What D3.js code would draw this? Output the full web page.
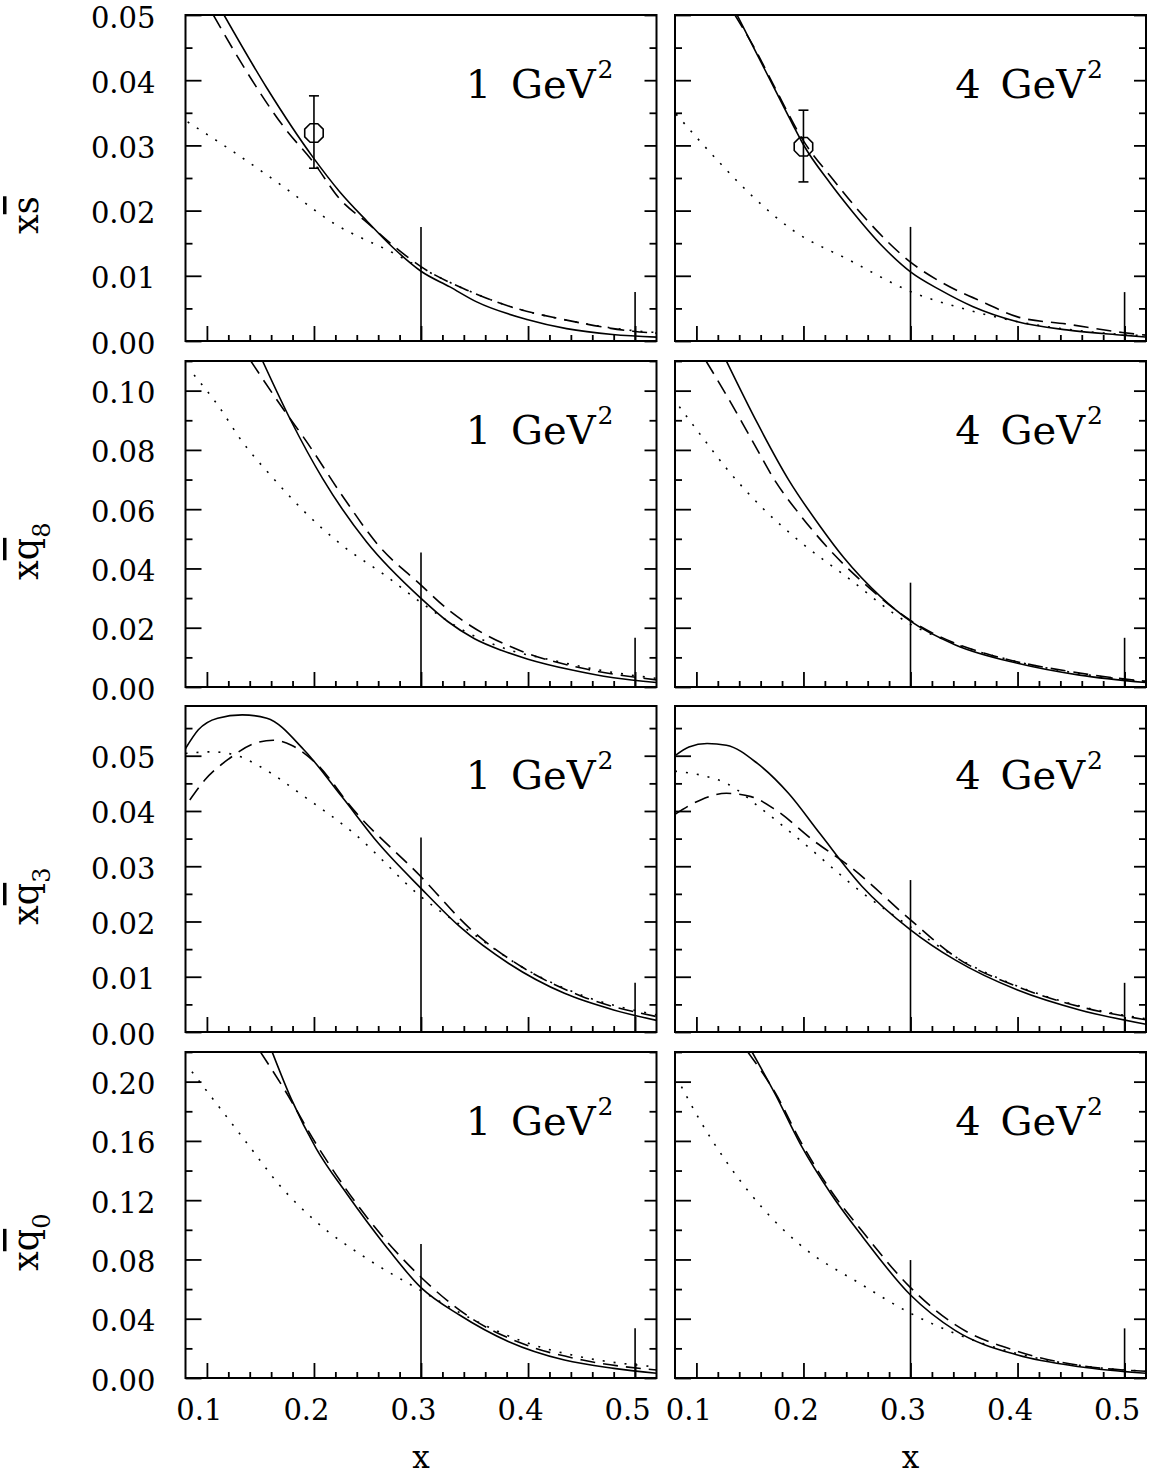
<!DOCTYPE html>
<html>
<head>
<meta charset="utf-8">
<script src="https://cdn.jsdelivr.net/npm/d3@7"></script>
<style>
  body { margin: 0; background: #fff; }
  text { font-family: "DejaVu Serif", serif; fill: #000; }
</style>
</head>
<body>
<div id="chart"></div>
<script>
// x range and ticks (same for every panel)
const xDomain = [0.08, 0.52];
const xMajor = [0.1, 0.2, 0.3, 0.4, 0.5];
const xMinor = [0.12, 0.14, 0.16, 0.18, 0.22, 0.24, 0.26, 0.28, 0.32, 0.34, 0.36, 0.38, 0.42, 0.44, 0.46, 0.48];

// rows: x sbar, x q8bar, x q3bar, x q0bar
const rowBase = ["s", "q", "q", "q"];
const rowSub = ["", "8", "3", "0"];
const yMax = [0.05, 0.11, 0.059, 0.22];
const yMajor = [
  [0, 0.01, 0.02, 0.03, 0.04, 0.05],
  [0, 0.02, 0.04, 0.06, 0.08, 0.10],
  [0, 0.01, 0.02, 0.03, 0.04, 0.05],
  [0, 0.04, 0.08, 0.12, 0.16, 0.20]
];
const yMinor = [
  [0.005, 0.015, 0.025, 0.035, 0.045],
  [0.01, 0.03, 0.05, 0.07, 0.09, 0.11],
  [0.005, 0.015, 0.025, 0.035, 0.045, 0.055],
  [0.02, 0.06, 0.10, 0.14, 0.18, 0.22]
];
const scaleTag = ["1", "4"];   // Q^2 in GeV^2, left / right column

// curves [x, y]
const s1Solid = [[0.116,0.050],[0.156,0.0388],[0.199,0.0282],[0.224,0.0229],[0.250,0.0183],[0.274,0.0143],[0.300,0.0107],[0.327,0.0083],[0.352,0.0060],[0.399,0.0033],[0.436,0.0019],[0.479,0.0010],[0.520,0.0006]];
const s1Dashed = [[0.106,0.050],[0.125,0.0446],[0.172,0.0328],[0.200,0.0273],[0.224,0.0218],[0.250,0.0181],[0.275,0.0145],[0.300,0.0114],[0.343,0.0078],[0.383,0.0053],[0.436,0.0032],[0.498,0.0015],[0.520,0.0012]];
const s1Dotted = [[0.082,0.0336],[0.125,0.0290],[0.172,0.0236],[0.218,0.0181],[0.274,0.0135],[0.300,0.0112],[0.343,0.0078],[0.383,0.0053],[0.436,0.0032],[0.498,0.0016],[0.520,0.0013]];

const s4Solid = [[0.138,0.050],[0.155,0.0445],[0.172,0.0390],[0.190,0.0332],[0.200,0.0301],[0.225,0.0242],[0.246,0.0198],[0.274,0.0145],[0.300,0.0106],[0.328,0.0078],[0.358,0.0053],[0.399,0.0030],[0.446,0.0017],[0.498,0.0009],[0.520,0.0006]];
const s4Dashed = [[0.136,0.050],[0.155,0.0447],[0.172,0.0393],[0.200,0.0307],[0.228,0.0247],[0.259,0.0186],[0.300,0.0121],[0.330,0.0089],[0.370,0.0058],[0.400,0.0037],[0.446,0.0026],[0.498,0.0013],[0.520,0.0009]];
const s4Dotted = [[0.081,0.0348],[0.122,0.0273],[0.153,0.0221],[0.190,0.0170],[0.243,0.0124],[0.300,0.0076],[0.353,0.0048],[0.399,0.0030],[0.446,0.0018],[0.498,0.0010],[0.520,0.0008]];

const q8_1Solid = [[0.152,0.110],[0.179,0.0895],[0.208,0.0704],[0.249,0.0490],[0.300,0.0299],[0.325,0.0221],[0.350,0.0163],[0.375,0.0124],[0.400,0.0094],[0.440,0.0058],[0.480,0.0031],[0.520,0.0015]];
const q8_1Dashed = [[0.141,0.110],[0.173,0.0929],[0.191,0.0839],[0.226,0.0648],[0.260,0.0479],[0.300,0.0344],[0.325,0.0262],[0.347,0.0205],[0.394,0.0121],[0.451,0.0063],[0.520,0.0024]];
const q8_1Dotted = [[0.088,0.1053],[0.110,0.0952],[0.133,0.0828],[0.162,0.0704],[0.191,0.0592],[0.226,0.0479],[0.266,0.0378],[0.300,0.0285],[0.340,0.0190],[0.380,0.0128],[0.422,0.0091],[0.470,0.0055],[0.520,0.0029]];

const q8_4Solid = [[0.128,0.110],[0.157,0.0890],[0.186,0.0700],[0.215,0.0545],[0.238,0.0435],[0.272,0.0305],[0.300,0.0222],[0.342,0.0142],[0.400,0.0080],[0.458,0.0040],[0.520,0.0015]];
const q8_4Dashed = [[0.109,0.110],[0.128,0.0985],[0.151,0.0839],[0.174,0.0693],[0.197,0.0580],[0.226,0.0457],[0.255,0.0355],[0.300,0.0225],[0.340,0.0150],[0.371,0.0112],[0.458,0.0047],[0.520,0.0019]];
const q8_4Dotted = [[0.084,0.0946],[0.104,0.0850],[0.128,0.0738],[0.162,0.0603],[0.197,0.0490],[0.238,0.0378],[0.300,0.0212],[0.340,0.0148],[0.400,0.0085],[0.458,0.0045],[0.520,0.0018]];

const q3_1Solid = [[0.080,0.0513],[0.092,0.0547],[0.110,0.0568],[0.133,0.0574],[0.156,0.0568],[0.191,0.0510],[0.226,0.0426],[0.260,0.0342],[0.300,0.0260],[0.336,0.0191],[0.382,0.0124],[0.434,0.0070],[0.480,0.0040],[0.520,0.0021]];
const q3_1Dashed = [[0.084,0.0420],[0.098,0.0456],[0.121,0.0495],[0.144,0.0522],[0.162,0.0528],[0.179,0.0519],[0.202,0.0486],[0.237,0.0402],[0.300,0.0281],[0.347,0.0185],[0.394,0.0118],[0.451,0.0064],[0.520,0.0028]];
const q3_1Dotted = [[0.080,0.0504],[0.104,0.0507],[0.127,0.0501],[0.150,0.0480],[0.191,0.0426],[0.237,0.0360],[0.300,0.0245],[0.347,0.0180],[0.394,0.0118],[0.451,0.0066],[0.520,0.0031]];

const q3_4Solid = [[0.080,0.0500],[0.093,0.0516],[0.110,0.0522],[0.128,0.0519],[0.157,0.0486],[0.186,0.0432],[0.215,0.0360],[0.255,0.0263],[0.300,0.0185],[0.342,0.0130],[0.400,0.0076],[0.458,0.0040],[0.520,0.0014]];
const q3_4Dashed = [[0.080,0.0394],[0.104,0.0420],[0.128,0.0432],[0.151,0.0426],[0.174,0.0402],[0.209,0.0347],[0.243,0.0300],[0.300,0.0203],[0.342,0.0136],[0.400,0.0082],[0.458,0.0046],[0.520,0.0022]];
const q3_4Dotted = [[0.080,0.0472],[0.104,0.0465],[0.128,0.0450],[0.162,0.0402],[0.197,0.0347],[0.255,0.0252],[0.300,0.0190],[0.342,0.0136],[0.400,0.0083],[0.458,0.0047],[0.520,0.0024]];

const q0_1Solid = [[0.161,0.220],[0.179,0.188],[0.202,0.155],[0.231,0.124],[0.266,0.090],[0.300,0.061],[0.336,0.0425],[0.382,0.0245],[0.434,0.0121],[0.480,0.0065],[0.520,0.0032]];
const q0_1Dashed = [[0.150,0.220],[0.173,0.1940],[0.202,0.1580],[0.243,0.1145],[0.300,0.0680],[0.347,0.0403],[0.394,0.0234],[0.451,0.0121],[0.520,0.0054]];
const q0_1Dotted = [[0.086,0.2067],[0.110,0.1842],[0.139,0.1570],[0.168,0.1300],[0.202,0.1055],[0.249,0.0808],[0.300,0.0590],[0.347,0.0400],[0.394,0.0250],[0.451,0.0140],[0.520,0.0075]];

const q0_4Solid = [[0.152,0.220],[0.174,0.191],[0.197,0.158],[0.226,0.124],[0.255,0.0955],[0.300,0.0560],[0.342,0.0320],[0.400,0.0155],[0.458,0.0076],[0.520,0.0032]];
const q0_4Dashed = [[0.148,0.220],[0.174,0.192],[0.197,0.160],[0.226,0.126],[0.255,0.0990],[0.300,0.0610],[0.342,0.0358],[0.400,0.0180],[0.458,0.0085],[0.520,0.0045]];
const q0_4Dotted = [[0.086,0.1966],[0.104,0.1730],[0.128,0.1460],[0.162,0.1145],[0.197,0.0898],[0.255,0.0628],[0.300,0.0437],[0.342,0.0300],[0.400,0.0165],[0.458,0.0085],[0.520,0.0045]];

// heights of the vertical bars at x = 0.3 and x = 0.5, [row][col]
const markX = [0.3, 0.5];
const markTop = [
  [[0.0175, 0.0075], [0.0175, 0.0075]],
  [[0.0454, 0.0166], [0.0352, 0.0166]],
  [[0.0352, 0.0089], [0.0275, 0.0089]],
  [[0.0904, 0.0335], [0.0796, 0.0335]]
];

// data point with error bar (top row only)
const sPoint = [
  {x: 0.2, y: 0.0319, lo: 0.0265, hi: 0.0376},
  {x: 0.2, y: 0.0298, lo: 0.0244, hi: 0.0354}
];

const solid = [[s1Solid, s4Solid], [q8_1Solid, q8_4Solid], [q3_1Solid, q3_4Solid], [q0_1Solid, q0_4Solid]];
const dashed = [[s1Dashed, s4Dashed], [q8_1Dashed, q8_4Dashed], [q3_1Dashed, q3_4Dashed], [q0_1Dashed, q0_4Dashed]];
const dotted = [[s1Dotted, s4Dotted], [q8_1Dotted, q8_4Dotted], [q3_1Dotted, q3_4Dotted], [q0_1Dotted, q0_4Dotted]];

// layout
const colLeft = [185.5, 675], panelW = 471;
const rowTop = [15, 361, 706, 1052], panelH = 326;

const svg = d3.select("#chart").append("svg")
    .attr("width", 1153)
    .attr("height", 1477);

const fmt = d3.format(".2f");
const line = d3.line().curve(d3.curveMonotoneX);

rowTop.forEach((top, r) => {
  // y label, rotated
  const lab = svg.append("text")
      .attr("transform", `translate(38,${top + panelH - 107}) rotate(-90)`)
      .style("font-size", "35px");
  lab.append("tspan").text("x");
  lab.append("tspan").text(rowBase[r]).style("text-decoration", "overline");
  if (rowSub[r]) lab.append("tspan").attr("dy", 12).style("font-size", "24px").text(rowSub[r]);

  colLeft.forEach((left, c) => {
    const x = d3.scaleLinear().domain(xDomain).range([0, panelW]);
    const y = d3.scaleLinear().domain([0, yMax[r]]).range([panelH, 0]);
    const g = svg.append("g").attr("transform", `translate(${left},${top})`);

    const clipId = `clip${r}${c}`;
    g.append("clipPath").attr("id", clipId)
      .append("rect").attr("width", panelW).attr("height", panelH);

    // left ticks
    g.append("g")
        .call(d3.axisLeft(y).tickValues(yMajor[r]).tickSize(-16).tickPadding(30)
          .tickFormat(c === 0 ? fmt : ""))
        .call(a => a.select(".domain").remove())
        .call(a => a.selectAll("text").attr("dy", null).attr("y", 12)
          .style("font-size", "29px").style("font-family", "DejaVu Serif"));
    g.append("g")
        .call(d3.axisLeft(y).tickValues(yMinor[r]).tickSize(-7).tickFormat(""))
        .call(a => a.select(".domain").remove());
    // right ticks
    g.append("g").attr("transform", `translate(${panelW},0)`)
        .call(d3.axisRight(y).tickValues(yMajor[r]).tickSize(-12).tickFormat(""))
        .call(a => a.select(".domain").remove());
    g.append("g").attr("transform", `translate(${panelW},0)`)
        .call(d3.axisRight(y).tickValues(yMinor[r]).tickSize(-7).tickFormat(""))
        .call(a => a.select(".domain").remove());
    // bottom ticks
    g.append("g").attr("transform", `translate(0,${panelH})`)
        .call(d3.axisBottom(x).tickValues(xMajor).tickSize(-15)
          .tickFormat(r === 3 ? d3.format(".1f") : ""))
        .call(a => a.select(".domain").remove())
        .call(a => a.selectAll("text").attr("dy", null).attr("y", 42).attr("dx", -8)
          .style("font-size", "29px").style("font-family", "DejaVu Serif"));
    g.append("g").attr("transform", `translate(0,${panelH})`)
        .call(d3.axisBottom(x).tickValues(xMinor).tickSize(-6).tickFormat(""))
        .call(a => a.select(".domain").remove());
    g.selectAll(".tick line").attr("stroke", "#000").attr("stroke-width", 1.8);

    // vertical bars
    g.selectAll(".mark")
      .data(markX.map((mx, i) => ({x: mx, top: markTop[r][c][i]})))
      .join("line")
        .attr("x1", d => x(d.x)).attr("x2", d => x(d.x))
        .attr("y1", y(0)).attr("y2", d => y(d.top))
        .attr("stroke", "#000").attr("stroke-width", 1.6);

    // curves
    const curves = g.append("g").attr("clip-path", `url(#${clipId})`);
    const styles = [
      {data: dotted[r][c], dash: "2,9"},
      {data: dashed[r][c], dash: "15,8"},
      {data: solid[r][c], dash: null}
    ];
    styles.forEach(s => {
      curves.append("path")
          .attr("d", line.x(d => x(d[0])).y(d => y(d[1]))(s.data))
          .attr("fill", "none")
          .attr("stroke", "#000")
          .attr("stroke-width", 1.6)
          .attr("stroke-dasharray", s.dash);
    });

    // data point
    if (r === 0) {
      const p = sPoint[c];
      const cx = x(p.x), cy = y(p.y);
      g.append("line")
          .attr("x1", cx).attr("x2", cx).attr("y1", y(p.lo)).attr("y2", y(p.hi))
          .attr("stroke", "#000").attr("stroke-width", 1.6);
      [p.lo, p.hi].forEach(v => {
        g.append("line")
            .attr("x1", cx - 5).attr("x2", cx + 5).attr("y1", y(v)).attr("y2", y(v))
            .attr("stroke", "#000").attr("stroke-width", 1.6);
      });
      const oct = d3.range(8).map(k => {
        const a = Math.PI / 8 + k * Math.PI / 4;
        return [cx + 10 * Math.cos(a), cy + 10 * Math.sin(a)];
      });
      g.append("polygon")
          .attr("points", oct.map(q => q.join(",")).join(" "))
          .attr("fill", "none").attr("stroke", "#000").attr("stroke-width", 1.6);
    }

    // frame
    g.append("rect")
        .attr("width", panelW).attr("height", panelH)
        .attr("fill", "none").attr("stroke", "#000").attr("stroke-width", 2);

    // Q^2 tag
    const tag = g.append("text")
        .attr("x", panelW - 43).attr("y", 83)
        .attr("text-anchor", "end")
        .style("font-size", "40px");
    tag.append("tspan").text(scaleTag[c]);
    tag.append("tspan").attr("dx", 20).text("GeV");
    tag.append("tspan").attr("dy", -20).attr("dx", 2).style("font-size", "25px").text("2");

    // x label under the bottom row
    if (r === 3) {
      g.append("text")
          .attr("x", panelW / 2).attr("y", panelH + 90)
          .attr("text-anchor", "middle")
          .style("font-size", "31px")
          .text("x");
    }
  });
});
</script>
</body>
</html>
